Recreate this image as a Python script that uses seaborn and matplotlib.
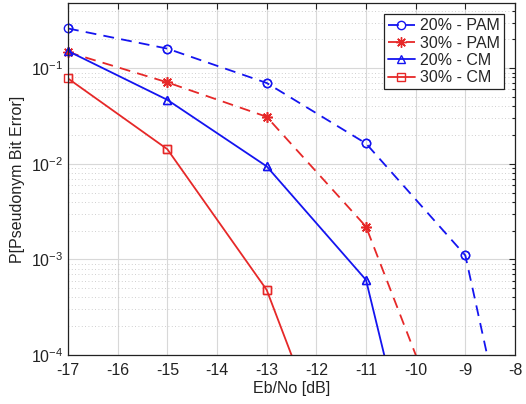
import matplotlib
matplotlib.use("Agg")
import matplotlib.pyplot as plt
import seaborn as sns
import numpy as np
import pandas as pd
from matplotlib.ticker import LogLocator, NullFormatter, FixedLocator

# Data
x_pam20 = [-17, -15, -13, -11, -9, -7]
y_pam20 = [0.26, 0.16, 0.07, 0.0163, 0.0011, 2e-8]
x_pam30 = [-17, -15, -13, -11, -9]
y_pam30 = [0.147, 0.071, 0.031, 0.0022, 4.6e-6]
x_cm20 = [-17, -15, -13, -11, -9]
y_cm20 = [0.151, 0.0466, 0.0094, 0.00061, 3.2e-8]
x_cm30 = [-17, -15, -13, -11]
y_cm30 = [0.078, 0.0142, 0.00048, 9e-7]
labels = ["20% - PAM", "30% - PAM", "20% - CM", "30% - CM"]
x_ticks = [-17, -16, -15, -14, -13, -12, -11, -10, -9, -8]
y_ticks = [1e-4, 1e-3, 1e-2, 1e-1]

sns.set_style("white")
plt.rcParams['font.family'] = ['Liberation Sans', 'DejaVu Sans']
plt.rcParams['mathtext.fontset'] = 'custom'
plt.rcParams['mathtext.rm'] = 'Liberation Sans'
plt.rcParams['mathtext.it'] = 'Liberation Sans'

fig = plt.figure(figsize=(5.26, 4.04), dpi=100)
ax = fig.add_axes([68/526, 1-355/404, (515-68)/526, (355-3)/404])
ax.set_yscale('log')
ax.set_xlim(-17, -8)
ax.set_ylim(1e-4, 0.48)

blue = '#1414f0'
red = '#e62828'
asterisk = (8, 2, 0)
series = [
    (x_pam20, y_pam20, blue, (6, 4), 'o', labels[0]),
    (x_pam30, y_pam30, red, (6, 4), asterisk, labels[1]),
    (x_cm20, y_cm20, blue, '', '^', labels[2]),
    (x_cm30, y_cm30, red, '', 's', labels[3]),
]
for xs, ys, c, d, m, lab in series:
    df = pd.DataFrame({"x": xs, "y": ys})
    ms = 6 if m == 'o' else (7.5 if m is asterisk else 6)
    sns.lineplot(data=df, x="x", y="y", ax=ax, color=c, marker=m,
                 markersize=ms, markerfacecolor='none',
                 markeredgecolor=c, markeredgewidth=1.0, linewidth=1.3,
                 label=lab, estimator=None, sort=False)
    line = ax.get_lines()[-1]
    if d:
        line.set_dashes(d)
    # unclipped markers for visible points (so edge markers are whole)
    vis = df[(df.y >= 1e-4) & (df.y <= 0.48)]
    mk = ax.plot(vis.x, vis.y, linestyle='none', marker=m, markersize=ms,
                 markerfacecolor='none', markeredgecolor=c, markeredgewidth=1.0)[0]
    mk.set_clip_on(False)

ax.set_xticks(x_ticks)
ax.set_xticklabels([str(v) for v in x_ticks])
ax.yaxis.set_major_locator(FixedLocator(y_ticks))
ax.set_yticklabels([r'$10^{%d}$' % int(np.log10(v)) for v in y_ticks])
ax.yaxis.set_minor_locator(LogLocator(base=10, subs=np.arange(2, 10), numticks=20))
ax.yaxis.set_minor_formatter(NullFormatter())

ax.grid(True, which='major', color='#d8d8d8', linewidth=0.8, linestyle='-')
ax.grid(True, which='minor', axis='y', color='#c0c0c0', linewidth=0.6, linestyle=(0, (1, 3)))
ax.set_axisbelow(True)

ax.tick_params(axis='both', which='both', direction='in', top=True, right=True,
               labelsize=11.5, colors='#222222', length=4, width=0.8)
ax.tick_params(axis='y', which='minor', length=2)
ax.tick_params(axis='x', pad=6)
for s in ax.spines.values():
    s.set_color('#222222')
    s.set_linewidth(0.9)

ax.set_xlabel('Eb/No [dB]', fontsize=11.5, color='#222222', labelpad=2)
ax.set_ylabel('P[Pseudonym Bit Error]', fontsize=11.5, color='#222222', labelpad=4)

leg = ax.legend(loc='upper right', fontsize=11.5, frameon=True, fancybox=False,
                edgecolor='#222222', framealpha=1, handlelength=1.7, handletextpad=0.3,
                borderpad=0.25, labelspacing=0.15, borderaxespad=0.7)
leg.get_frame().set_linewidth(0.9)

fig.savefig('out.png', dpi=100)
